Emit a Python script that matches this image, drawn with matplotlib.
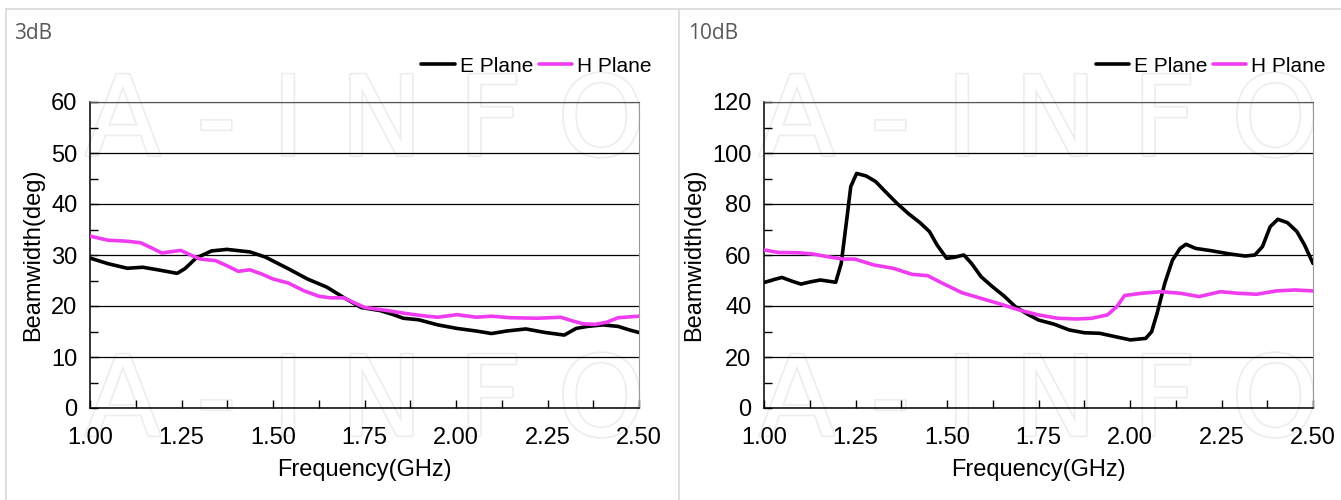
import matplotlib
matplotlib.use("Agg")
import matplotlib.pyplot as plt
import matplotlib.patheffects as pe
from matplotlib.ticker import MultipleLocator, FormatStrFormatter
from matplotlib.lines import Line2D

plt.rcParams['font.family'] = ['Liberation Sans', 'DejaVu Sans']

# 3dB beamwidth
f3_e = [1.000, 1.049, 1.102, 1.144, 1.185, 1.238, 1.259, 1.290, 1.332, 1.374, 1.437, 1.479,
        1.542, 1.594, 1.647, 1.699, 1.741, 1.793, 1.825, 1.856, 1.898, 1.950, 2.003, 2.055,
        2.097, 2.139, 2.191, 2.244, 2.296, 2.328, 2.359, 2.401, 2.443, 2.474, 2.500]
bw3_e = [29.4, 28.3, 27.4, 27.6, 27.1, 26.4, 27.3, 29.4, 30.8, 31.1, 30.6, 29.6,
         27.3, 25.3, 23.7, 21.4, 19.7, 19.1, 18.4, 17.6, 17.3, 16.3, 15.6, 15.1,
         14.6, 15.1, 15.5, 14.8, 14.3, 15.6, 16.0, 16.3, 16.0, 15.3, 14.8]
f3_h = [1.000, 1.049, 1.102, 1.138, 1.165, 1.196, 1.227, 1.248, 1.275, 1.301, 1.343, 1.374,
        1.405, 1.437, 1.468, 1.500, 1.542, 1.584, 1.626, 1.657, 1.694, 1.720, 1.751, 1.804,
        1.856, 1.908, 1.950, 2.003, 2.055, 2.097, 2.149, 2.223, 2.286, 2.317, 2.348, 2.380,
        2.411, 2.443, 2.500]
bw3_h = [33.7, 32.9, 32.7, 32.4, 31.5, 30.4, 30.7, 30.9, 30.0, 29.2, 28.9, 27.9,
         26.8, 27.1, 26.3, 25.3, 24.5, 23.0, 21.9, 21.6, 21.6, 20.7, 19.7, 19.2,
         18.6, 18.1, 17.8, 18.3, 17.8, 18.0, 17.7, 17.6, 17.8, 17.1, 16.5, 16.4,
         16.8, 17.7, 18.0]

# 10dB beamwidth
f10_e = [1.000, 1.023, 1.049, 1.075, 1.101, 1.128, 1.154, 1.196, 1.211, 1.227, 1.237, 1.253,
         1.279, 1.305, 1.332, 1.363, 1.394, 1.426, 1.452, 1.473, 1.499, 1.520, 1.546, 1.567,
         1.593, 1.624, 1.656, 1.687, 1.719, 1.750, 1.792, 1.834, 1.876, 1.917, 1.959, 2.001,
         2.043, 2.059, 2.074, 2.095, 2.116, 2.137, 2.153, 2.179, 2.221, 2.273, 2.315, 2.341,
         2.362, 2.383, 2.404, 2.430, 2.456, 2.477, 2.500]
bw10_e = [49.2, 50.2, 51.2, 49.8, 48.6, 49.5, 50.2, 49.3, 56.7, 75.0, 86.8, 92.0,
          91.0, 88.8, 84.8, 80.3, 76.3, 72.7, 69.2, 63.9, 58.7, 59.1, 60.0, 56.7,
          51.5, 47.6, 43.9, 39.7, 36.9, 34.5, 32.9, 30.6, 29.5, 29.3, 28.0, 26.7,
          27.3, 29.9, 37.1, 48.9, 58.0, 62.6, 64.2, 62.6, 61.7, 60.4, 59.6, 60.0,
          63.3, 71.1, 74.0, 72.7, 69.2, 63.9, 56.7]
f10_h = [1.000, 1.039, 1.091, 1.133, 1.175, 1.217, 1.248, 1.300, 1.353, 1.405, 1.447, 1.488,
         1.541, 1.593, 1.645, 1.698, 1.750, 1.802, 1.855, 1.896, 1.938, 1.964, 1.985, 2.032,
         2.085, 2.137, 2.189, 2.247, 2.294, 2.346, 2.399, 2.451, 2.500]
bw10_h = [62.0, 61.0, 60.9, 60.4, 59.3, 58.4, 58.4, 56.1, 54.8, 52.4, 51.9, 48.9,
          45.2, 43.0, 40.8, 38.4, 36.5, 35.2, 34.9, 35.2, 36.5, 39.7, 44.1, 45.0,
          45.6, 45.0, 43.7, 45.6, 45.0, 44.6, 45.9, 46.3, 45.9]

panels = [
    ("3dB", f3_e, bw3_e, f3_h, bw3_h, 60, 10, 5),
    ("10dB", f10_e, bw10_e, f10_h, bw10_h, 120, 20, 10),
]

W, H = 1341, 500
fig = plt.figure(figsize=(W / 100, H / 100), dpi=100)

# panel frames
frame = dict(color='#d9d9d9', lw=1.2, transform=fig.transFigure)
fig.add_artist(Line2D([6 / W, 1], [1 - 9 / H, 1 - 9 / H], **frame))
fig.add_artist(Line2D([6 / W, 6 / W], [0, 1 - 9 / H], **frame))
fig.add_artist(Line2D([679 / W, 679 / W], [0, 1 - 9 / H], **frame))

# faint watermark, one string per row
for dx in [0, 674]:
    for yy in [125, 405]:
        fig.text((365 + dx) / W, 1 - yy / H, "A - I N F O", fontsize=80, color='white',
                 ha='center', va='center', family='DejaVu Sans', zorder=-5,
                 path_effects=[pe.withStroke(linewidth=2.4, foreground='#ededed')])

ax_left = [90, 764]
for i, (title, fe, ve, fh, vh, ymax, ymaj, ymin) in enumerate(panels):
    x0 = ax_left[i]
    ax = fig.add_axes([x0 / W, 92 / H, 549 / W, 306 / H])
    ax.set_facecolor('none')
    ax.plot(fe, ve, color='black', lw=2.6, label='E Plane', zorder=3,
            solid_joinstyle='round', solid_capstyle='round')
    ax.plot(fh, vh, color='#f03cf0', lw=2.6, label='H Plane', zorder=3,
            solid_joinstyle='round', solid_capstyle='round')
    ax.set_xlim(1.0, 2.5)
    ax.set_ylim(0, ymax)
    ax.xaxis.set_major_locator(MultipleLocator(0.25))
    ax.xaxis.set_minor_locator(MultipleLocator(0.125))
    ax.xaxis.set_major_formatter(FormatStrFormatter('%.2f'))
    ax.yaxis.set_major_locator(MultipleLocator(ymaj))
    ax.yaxis.set_minor_locator(MultipleLocator(ymin))
    ax.tick_params(which='both', direction='in', length=6, width=1, colors='black',
                   labelsize=17, top=False, right=False)
    ax.tick_params(axis='x', pad=14)
    ax.tick_params(axis='y', pad=9)
    ax.grid(axis='y', which='major', color='black', lw=0.9)
    ax.set_axisbelow(True)
    for s in ['left', 'bottom']:
        ax.spines[s].set_color('black')
        ax.spines[s].set_linewidth(1.1)
    ax.spines['top'].set_color('#555555')
    ax.spines['right'].set_color('#999999')
    ax.set_xlabel('Frequency(GHz)', fontsize=17, labelpad=7)
    ax.set_ylabel('Beamwidth(deg)', fontsize=17, labelpad=5)
    ax.legend(loc='center right', bbox_to_anchor=((x0 + 570) / W, 1 - 66 / H),
              bbox_transform=fig.transFigure, ncol=2, frameon=False, fontsize=15,
              handlelength=1.6, handletextpad=0.25, columnspacing=0.25, borderaxespad=0)
    fig.text((x0 - 76) / W, 1 - 33 / H, title, fontsize=15, color='#595959',
             family=['Open Sans', 'DejaVu Sans'], ha='left', va='center')

fig.savefig('out.png', dpi=100)
